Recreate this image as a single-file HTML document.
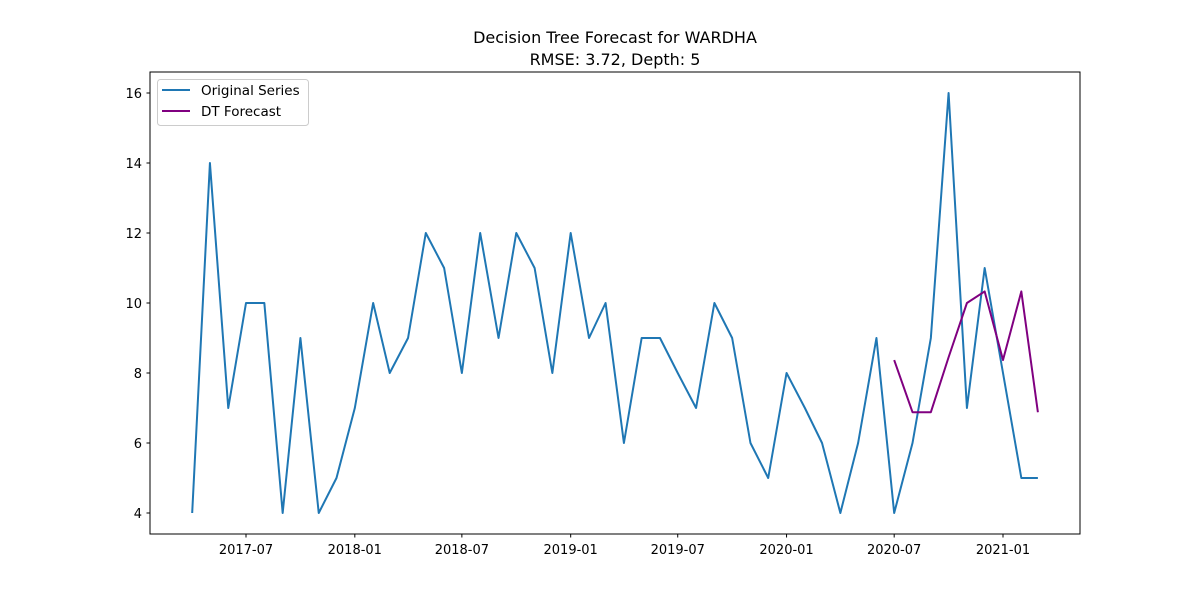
<!DOCTYPE html>
<html><head><meta charset="utf-8"><style>
body{margin:0;background:#fff;}
svg text{font-family:"DejaVu Sans","Liberation Sans",sans-serif;}
</style></head><body>
<svg id="chart" width="1200" height="600" xmlns="http://www.w3.org/2000/svg">
<rect width="1200" height="600" fill="#fff"/>
<text x="615" y="43" font-size="16" text-anchor="middle">Decision Tree Forecast for WARDHA</text>
<text x="615" y="65" font-size="16" text-anchor="middle">RMSE: 3.72, Depth: 5</text>
<g id="axes"></g>
<g id="series"></g>
<rect x="150" y="72" width="930" height="462" fill="none" stroke="#000" stroke-width="1"/>
<g>
<rect x="157.5" y="79.5" width="151" height="46" rx="3" fill="#fff" fill-opacity="0.8" stroke="#ccc"/>
<line x1="162" y1="90" x2="190" y2="90" stroke="#1f77b4" stroke-width="2"/>
<text x="201" y="95" font-size="13.5">Original Series</text>
<line x1="162" y1="111" x2="190" y2="111" stroke="purple" stroke-width="2"/>
<text x="201" y="116" font-size="13.5">DT Forecast</text>
</g>
</svg>
<script>
const origStart = [2017, 4];
const origValues = [4,14,7,10,10,4,9,4,5,7,10,8,9,12,11,8,12,9,12,11,8,12,9,10,6,9,9,8,7,10,9,6,5,8,7,6,4,6,9,4,6,9,16,7,11,8,5,5];
const fcStart = [2020, 7];
const fcValues = [8.37,6.88,6.88,8.45,10,10.33,8.37,10.33,6.88];
const yTicks = [4,6,8,10,12,14,16];
const xTickLabels = ["2017-07","2018-01","2018-07","2019-01","2019-07","2020-01","2020-07","2021-01"];

const NS = "http://www.w3.org/2000/svg";
const ref = Date.UTC(2017,6,1);
const pxPerDay = 757/1280;
function xDate(y,m){ return 246 + (Date.UTC(y,m-1,1)-ref)/86400000*pxPerDay; }
function yScale(v){ return 513 - (v-4)*35; }
function mk(tag, attrs, parent){ const e=document.createElementNS(NS,tag); for(const k in attrs) e.setAttribute(k,attrs[k]); parent.appendChild(e); return e; }
const axes=document.getElementById('axes'), ser=document.getElementById('series');

yTicks.forEach(t=>{
  const y=yScale(t);
  const l=mk('line',{x1:146.5,x2:150,y1:y,y2:y,stroke:'#000'},axes);
  
  
  const tx=mk('text',{x:142,y:y+5,'font-size':13,'text-anchor':'end'},axes);
  tx.textContent=t;
  
  
});
xTickLabels.forEach(s=>{
  const [yy,mm]=s.split('-').map(Number);
  const x=xDate(yy,mm);
  const l=mk('line',{x1:x,x2:x,y1:534,y2:537.5,stroke:'#000'},axes);
  
  
  const tx=mk('text',{x:x,y:554,'font-size':13,'text-anchor':'middle'},axes);
  tx.textContent=s;
  
  
});
function pts(start, vals){
  return vals.map((v,i)=>{ const m0=start[1]-1+i; return xDate(start[0]+Math.floor(m0/12), m0%12+1).toFixed(2)+','+yScale(v).toFixed(2); }).join(' ');
}
const p1=mk('polyline',{points:pts(origStart,origValues),fill:'none',stroke:'#1f77b4','stroke-width':2,'stroke-linejoin':'round'},ser);


const p2=mk('polyline',{points:pts(fcStart,fcValues),fill:'none',stroke:'purple','stroke-width':2,'stroke-linejoin':'round'},ser);


</script>
</body></html>
